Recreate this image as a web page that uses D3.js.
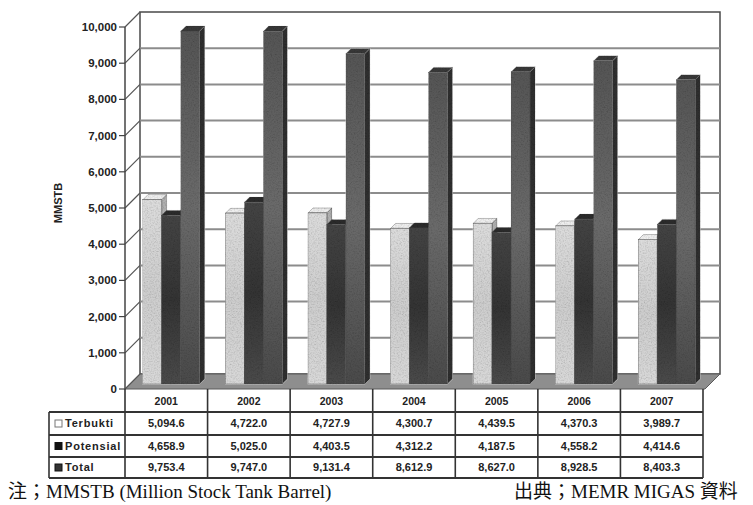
<!DOCTYPE html>
<html>
<head>
<meta charset="utf-8">
<script src="https://cdn.jsdelivr.net/npm/d3@7"></script>
<style>
  html, body { margin: 0; padding: 0; background: #fff; }
  svg { display: block; }
  .tick-label, .cell, .head, .legend-label, .axis-title { font-family: Arial, "Liberation Sans", sans-serif; font-weight: bold; fill: #222; }
  .note { font-family: "Liberation Serif", "Times New Roman", "Noto Sans CJK JP", serif; font-size: 19px; fill: #111; }
</style>
</head>
<body>
<svg id="chart" width="753" height="505"></svg>
<script>
// Oil reserves by year (MMSTB)
const years = ["2001", "2002", "2003", "2004", "2005", "2006", "2007"];
const seriesNames = ["Terbukti", "Potensial", "Total"];
const terbukti = [5094.6, 4722.0, 4727.9, 4300.7, 4439.5, 4370.3, 3989.7];
const potensial = [4658.9, 5025.0, 4403.5, 4312.2, 4187.5, 4558.2, 4414.6];
const total = [9753.4, 9747.0, 9131.4, 8612.9, 8627.0, 8928.5, 8403.3];
const yTicks = [0, 1000, 2000, 3000, 4000, 5000, 6000, 7000, 8000, 9000, 10000];
const tableLabels = [
  ["5,094.6", "4,722.0", "4,727.9", "4,300.7", "4,439.5", "4,370.3", "3,989.7"],
  ["4,658.9", "5,025.0", "4,403.5", "4,312.2", "4,187.5", "4,558.2", "4,414.6"],
  ["9,753.4", "9,747.0", "9,131.4", "8,612.9", "8,627.0", "8,928.5", "8,403.3"]
];

const seriesValues = [terbukti, potensial, total];

const svg = d3.select("#chart");

// 3D frame geometry
const DX = 15, DY = -15;          // full floor depth offset
const FRONT_LEFT = 125, FRONT_RIGHT = 705, CAT_RIGHT = 703;
const y = d3.scaleLinear().domain([0, 10000]).range([389, 27]);
const x0 = d3.scaleBand().domain(years).range([FRONT_LEFT, CAT_RIGHT]).paddingInner(0.31).paddingOuter(0.155);
const x1 = d3.scaleBand().domain(seriesNames).range([0, x0.bandwidth()]).padding(0);
const colStep = (CAT_RIGHT - FRONT_LEFT) / years.length;

// Grain filter for the bar faces
const defs = svg.append("defs");
const grain = defs.append("filter").attr("id", "grain").attr("x", 0).attr("y", 0).attr("width", 1).attr("height", 1);
grain.append("feTurbulence").attr("type", "fractalNoise").attr("baseFrequency", 0.7).attr("numOctaves", 3).attr("seed", 4).attr("result", "noise");
grain.append("feColorMatrix").attr("in", "noise").attr("type", "matrix")
  .attr("values", "0.33 0.33 0.33 0 0  0.33 0.33 0.33 0 0  0.33 0.33 0.33 0 0  0 0 0 0 1").attr("result", "gray");
const ct = grain.append("feComponentTransfer").attr("in", "gray").attr("result", "soft");
["R", "G", "B"].forEach(c => ct.append("feFunc" + c).attr("type", "linear").attr("slope", 1.0).attr("intercept", 0.45));
grain.append("feBlend").attr("in", "SourceGraphic").attr("in2", "soft").attr("mode", "multiply").attr("result", "mix");
grain.append("feComposite").attr("in", "mix").attr("in2", "SourceGraphic").attr("operator", "in");

// Face gradients per series
const faceStops = {
  Terbukti: ["#dcdcdc", "#cdcdcd", "#d8d8d8"],
  Potensial: ["#444444", "#333333", "#4a4a4a"],
  Total: ["#555555", "#6a6a6a", "#4a4a4a"]
};
seriesNames.forEach(name => {
  const g = defs.append("linearGradient").attr("id", "front-" + name).attr("x1", 0).attr("y1", 0).attr("x2", 0).attr("y2", 1);
  faceStops[name].forEach((c, i) => g.append("stop").attr("offset", i / 2).attr("stop-color", c));
});
const topColor = { Terbukti: "#eeeeee", Potensial: "#2c2c2c", Total: "#383838" };
const sideColor = { Terbukti: "#b0b0b0", Potensial: "#262626", Total: "#2f2f2f" };

// Back wall
svg.append("rect")
  .attr("x", FRONT_LEFT + DX).attr("y", y(10000) + DY)
  .attr("width", FRONT_RIGHT - FRONT_LEFT).attr("height", y(0) - y(10000))
  .attr("fill", "#fff").attr("stroke", "#4a4a4a").attr("stroke-width", 1.5);

// Back wall gridlines
svg.append("g").selectAll("line").data(yTicks.filter(v => v > 0 && v < 10000)).join("line")
  .attr("x1", FRONT_LEFT + DX).attr("x2", FRONT_RIGHT + DX)
  .attr("y1", d => y(d) + DY).attr("y2", d => y(d) + DY)
  .attr("stroke", "#8c8c8c").attr("stroke-width", 2);

// Floor
svg.append("polygon")
  .attr("points", [[FRONT_LEFT, y(0)], [FRONT_RIGHT, y(0)], [FRONT_RIGHT + DX, y(0) + DY], [FRONT_LEFT + DX, y(0) + DY]].map(p => p.join(",")).join(" "))
  .attr("fill", "#8e8e8e").attr("stroke", "#5a5a5a").attr("stroke-width", 1);

// Left wall: tick diagonals and axis lines
svg.append("g").selectAll("line").data(yTicks).join("line")
  .attr("x1", FRONT_LEFT).attr("x2", FRONT_LEFT + DX)
  .attr("y1", d => y(d)).attr("y2", d => y(d) + DY)
  .attr("stroke", "#555").attr("stroke-width", 1.2);
svg.append("line").attr("x1", FRONT_LEFT).attr("x2", FRONT_LEFT).attr("y1", y(10000)).attr("y2", y(0))
  .attr("stroke", "#444").attr("stroke-width", 1.5);
svg.append("g").selectAll("line").data(yTicks).join("line")
  .attr("x1", FRONT_LEFT - 6).attr("x2", FRONT_LEFT)
  .attr("y1", d => y(d)).attr("y2", d => y(d))
  .attr("stroke", "#444").attr("stroke-width", 1.2);
svg.append("g").selectAll("text").data(yTicks).join("text")
  .attr("class", "tick-label")
  .attr("x", FRONT_LEFT - 8).attr("y", d => y(d)).attr("dy", "0.35em")
  .attr("text-anchor", "end").attr("font-size", 11.5)
  .text(d => d3.format(",")(d));

svg.append("text").attr("class", "axis-title")
  .attr("transform", "translate(62,203) rotate(-90)")
  .attr("text-anchor", "middle").attr("font-size", 11)
  .text("MMSTB");

// Bars as boxes standing mid-depth on the floor
const d0 = 0.33, d1 = 0.67;
const bars = [];
years.forEach((yr, i) => {
  seriesNames.forEach((s, j) => bars.push({ year: yr, series: s, value: seriesValues[j][i] }));
});
const barG = svg.append("g").attr("filter", "url(#grain)");
bars.forEach(b => {
  const X = x0(b.year) + x1(b.series), w = x1.bandwidth();
  const yt = y(b.value), yb = y(0);
  const fx0 = X + DX * d0, fy0 = DY * d0, fx1 = X + DX * d1, fy1 = DY * d1;
  const g = barG.append("g");
  g.append("polygon")
    .attr("points", [[fx0 + w, yt + fy0], [fx1 + w, yt + fy1], [fx1 + w, yb + fy1], [fx0 + w, yb + fy0]].map(p => p.join(",")).join(" "))
    .attr("fill", sideColor[b.series]).attr("stroke", "#333").attr("stroke-width", 0.5);
  g.append("polygon")
    .attr("points", [[fx0, yt + fy0], [fx0 + w, yt + fy0], [fx1 + w, yt + fy1], [fx1, yt + fy1]].map(p => p.join(",")).join(" "))
    .attr("fill", topColor[b.series]).attr("stroke", "#333").attr("stroke-width", 0.5);
  g.append("rect")
    .attr("x", fx0).attr("y", yt + fy0).attr("width", w).attr("height", yb - yt)
    .attr("fill", `url(#front-${b.series})`).attr("stroke", "#444").attr("stroke-width", 0.5);
});

// Data table
const headTop = y(0), rowTops = [412, 435, 457], tableBottom = 478, legendLeft = 49;
const tbl = svg.append("g");
const lineColor = "#333";
tbl.selectAll("line.v").data(d3.range(years.length + 1)).join("line")
  .attr("x1", i => FRONT_LEFT + i * colStep).attr("x2", i => FRONT_LEFT + i * colStep)
  .attr("y1", headTop).attr("y2", tableBottom)
  .attr("stroke", lineColor).attr("stroke-width", 1.6);
tbl.append("line").attr("x1", legendLeft).attr("x2", legendLeft).attr("y1", rowTops[0]).attr("y2", tableBottom)
  .attr("stroke", lineColor).attr("stroke-width", 1.6);
tbl.selectAll("line.h").data(rowTops.concat([tableBottom])).join("line")
  .attr("x1", legendLeft).attr("x2", CAT_RIGHT)
  .attr("y1", d => d).attr("y2", d => d)
  .attr("stroke", lineColor).attr("stroke-width", 1.8);

tbl.selectAll("text.head").data(years).join("text")
  .attr("class", "head")
  .attr("x", (d, i) => FRONT_LEFT + (i + 0.5) * colStep).attr("y", (headTop + rowTops[0]) / 2 + 1)
  .attr("dy", "0.35em").attr("text-anchor", "middle").attr("font-size", 10.5)
  .text(d => d);

const rowBottoms = [rowTops[1], rowTops[2], tableBottom];
seriesNames.forEach((s, r) => {
  const cy = (rowTops[r] + rowBottoms[r]) / 2;
  tbl.append("rect").attr("x", 55).attr("y", cy - 3.5).attr("width", 7).attr("height", 7)
    .attr("fill", s === "Terbukti" ? "#fff" : (s === "Potensial" ? "#111" : "#333"))
    .attr("stroke", s === "Terbukti" ? "#777" : "#111").attr("stroke-width", 1);
  tbl.append("text").attr("class", "legend-label")
    .attr("x", 65).attr("y", cy).attr("dy", "0.35em").attr("font-size", 11)
    .attr("letter-spacing", 0.8)
    .text(s);
  tbl.selectAll(null).data(tableLabels[r]).join("text")
    .attr("class", "cell")
    .attr("x", (d, i) => FRONT_LEFT + (i + 0.5) * colStep).attr("y", cy)
    .attr("dy", "0.35em").attr("text-anchor", "middle").attr("font-size", 11)
    .text(d => d);
});

// Footnotes
svg.append("text").attr("class", "note").attr("x", 8).attr("y", 498).text("注；MMSTB (Million Stock Tank Barrel)");
svg.append("text").attr("class", "note").attr("x", 514).attr("y", 498).text("出典；MEMR MIGAS 資料");
</script>
</body>
</html>
